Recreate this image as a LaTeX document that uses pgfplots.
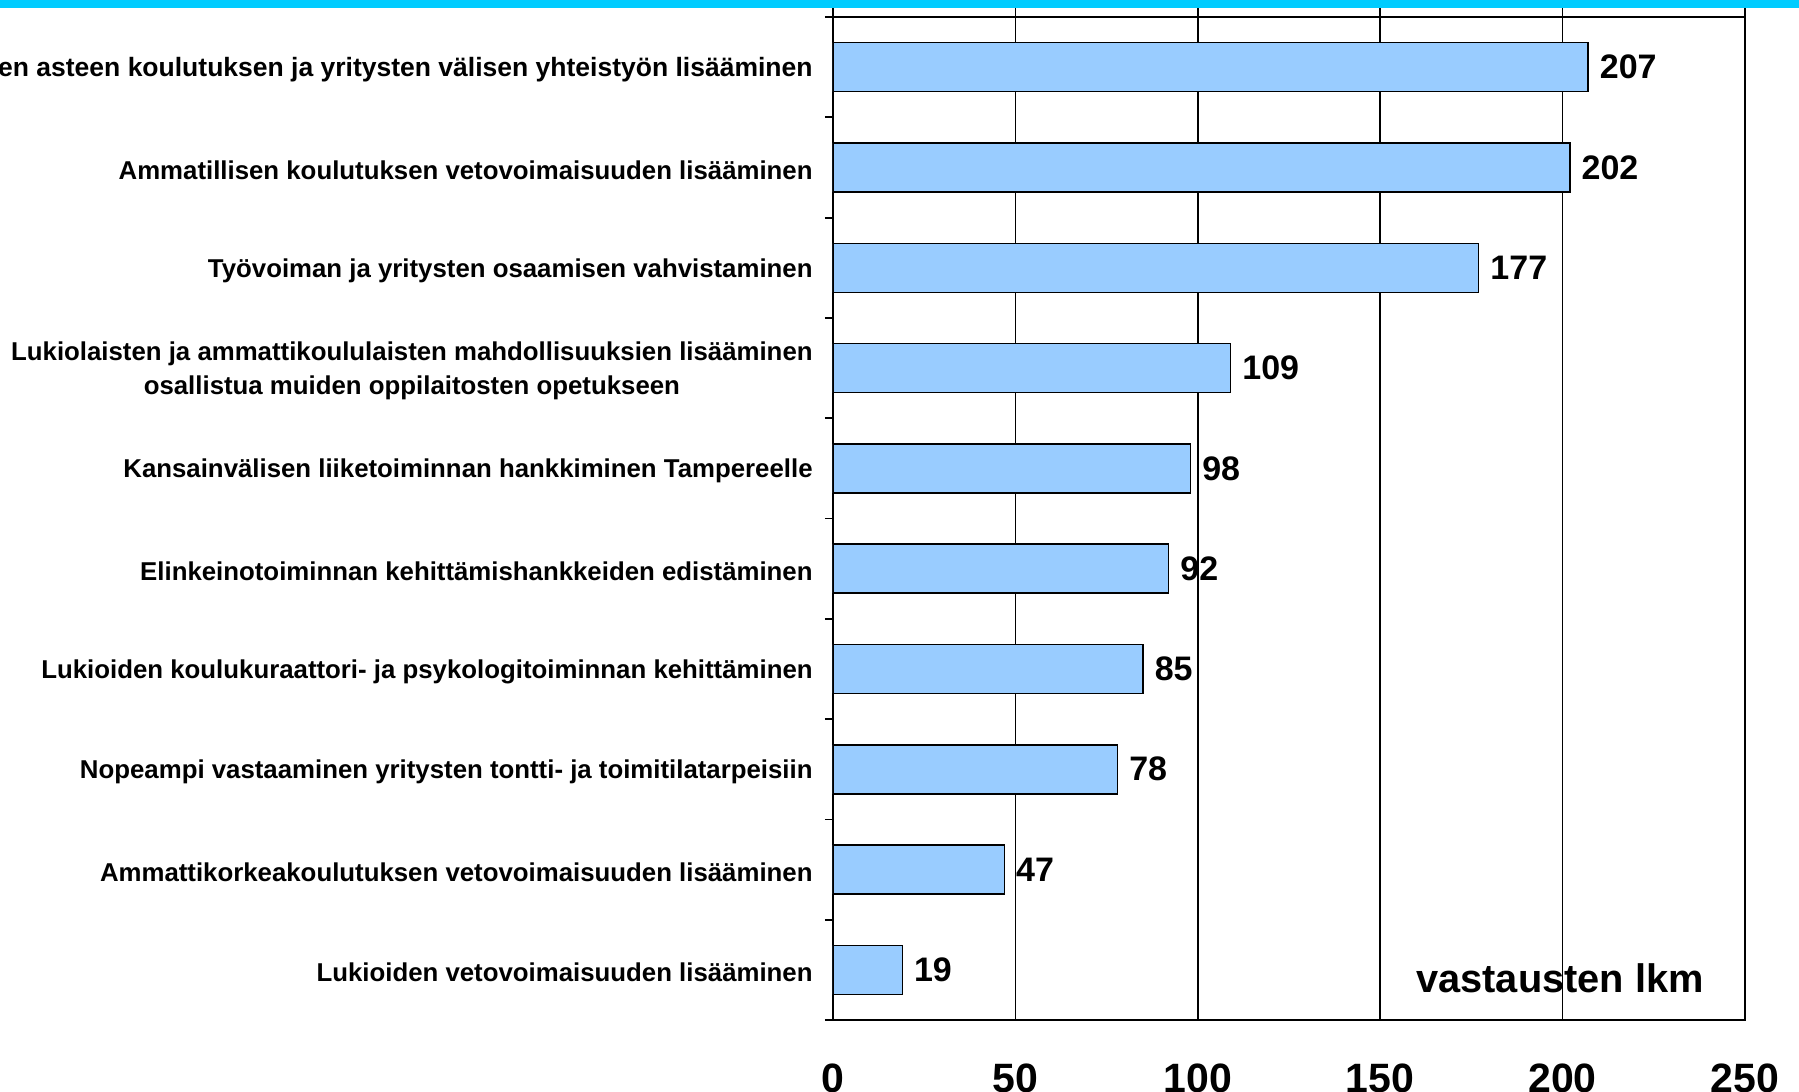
\documentclass[border=0pt]{standalone}
\usepackage{fontspec}
\setmainfont{Liberation Sans}
\usepackage{pgfplots}
\pgfplotsset{compat=1.18}
\definecolor{barblue}{HTML}{99CCFF}
\definecolor{topband}{HTML}{00CCFF}
\begin{document}
\begin{tikzpicture}
\begin{axis}[
  at={(416.5pt,36pt)}, anchor=south west,
  scale only axis, width=456pt, height=507.5pt,
  xbar, bar width=24.5pt,
  xmin=0, xmax=250,
  ymin=0.38, ymax=10.5, y dir=reverse,
  xtick={0,50,...,250},
  xmajorgrids,
  major grid style={black, line width=0.75pt},
  ytick={1,...,10},
  yticklabels={
    {\fontsize{13.25}{17}\selectfont Toisen asteen koulutuksen ja yritysten välisen yhteistyön lisääminen},
    {Ammatillisen koulutuksen vetovoimaisuuden lisääminen},
    {Työvoiman ja yritysten osaamisen vahvistaminen},
    {Lukiolaisten ja ammattikoululaisten mahdollisuuksien lisääminen\\osallistua muiden oppilaitosten opetukseen},
    {Kansainvälisen liiketoiminnan hankkiminen Tampereelle},
    {Elinkeinotoiminnan kehittämishankkeiden edistäminen},
    {Lukioiden koulukuraattori- ja psykologitoiminnan kehittäminen},
    {Nopeampi vastaaminen yritysten tontti- ja toimitilatarpeisiin},
    {Ammattikorkeakoulutuksen vetovoimaisuuden lisääminen},
    {Lukioiden vetovoimaisuuden lisääminen}},
  minor ytick={0.5,1.5,...,10.5},
  extra y ticks={0.5},
  extra y tick labels={},
  extra y tick style={grid=major},
  tick align=outside,
  major tick length=0pt,
  minor tick length=4pt,
  tick style={black, line width=0.9pt},
  xtick pos=bottom, ytick pos=left,
  axis line style={black, line width=1pt},
  /pgf/number format/assume math mode=true,
  xticklabel style={font=\bfseries\fontsize{20.5}{24}\selectfont, anchor=north, inner sep=0pt, yshift=-21.5pt},
  yticklabel style={font=\bfseries\fontsize{12.9}{17}\selectfont, align=center, inner sep=0pt, xshift=-10pt, yshift=-1.4pt},
  nodes near coords,
  point meta=x,
  nodes near coords style={font=\bfseries\fontsize{17}{20}\selectfont, anchor=west, inner sep=0pt, xshift=5.5pt, text=black},
]
\addplot[draw=black, fill=barblue, line width=0.75pt] coordinates {
  (207,1) (202,2) (177,3) (109,4) (98,5)
  (92,6) (85,7) (78,8) (47,9) (19,10)
};
\node[font=\bfseries\fontsize{19.9}{22}\selectfont, anchor=base] at (axis cs:199.3,10.23) {vastausten lkm};
\end{axis}
\fill[topband] (0,541.85pt) rectangle (899.5pt,546pt);
\pgfresetboundingbox
\useasboundingbox (0,0) rectangle (899.5pt,546pt);
\end{tikzpicture}
\end{document}
